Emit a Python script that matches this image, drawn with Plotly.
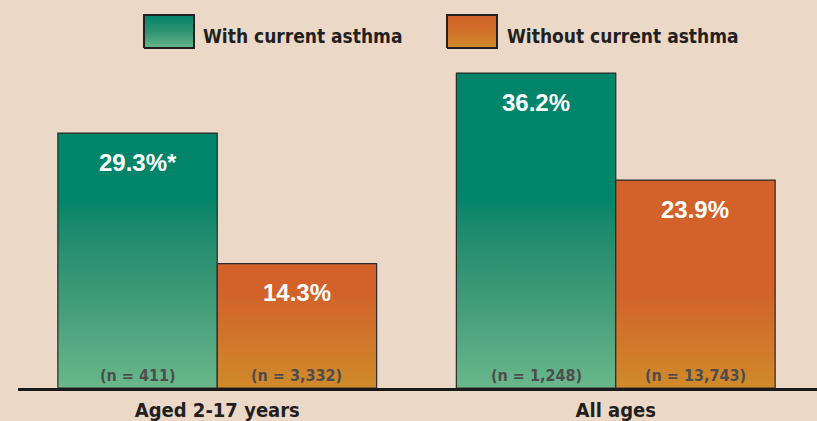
import plotly.graph_objects as go

# ---------------- data ----------------
categories = ["Aged 2-17 years", "All ages"]
series_names = ["With current asthma", "Without current asthma"]
with_asthma = [29.3, 36.2]
without_asthma = [14.3, 23.9]
labels_with = ["29.3%*", "36.2%"]
labels_without = ["14.3%", "23.9%"]
n_with = ["(n = 411)", "(n = 1,248)"]
n_without = ["(n = 3,332)", "(n = 13,743)"]

# ---------------- style ----------------
W, H = 817, 421
BG = "#ECD8C7"
TEXT = "#231F20"
NTEXT = "#4D4D4D"
OUTLINE = "#2A2A2A"
COND = "'DejaVu Sans Condensed', 'DejaVu Sans', sans-serif"
SANS = "'Liberation Sans', Arial, sans-serif"

GREEN_SCALE = [[0, "#6AB78B"], [0.5, "#3D9977"], [0.85, "#1A8A6C"], [1, "#00846A"]]
ORANGE_SCALE = [[0, "#CF8B2A"], [1, "#D2622A"]]
GREEN_GRAD_TOP = 22
ORANGE_GRAD_TOP = 11
SW_GREEN = [[0, "#66B589"], [0.5, "#2F9272"], [1, "#00846A"]]
SW_ORANGE = [[0, "#D08B2A"], [0.5, "#D2702A"], [1, "#D2602A"]]

BAR_W = 0.4
PLOT_BOTTOM_PX = 388
PLOT_TOP_PX = 60
Y_MAX = 37.7

series = [
    (with_asthma, labels_with, n_with, GREEN_SCALE, GREEN_GRAD_TOP),
    (without_asthma, labels_without, n_without, ORANGE_SCALE, ORANGE_GRAD_TOP),
]

fig = go.Figure()
annotations = []

for s, (vals, vlabels, nlabels, scale, gtop) in enumerate(series):
    for i, v in enumerate(vals):
        x0 = i - BAR_W + s * BAR_W
        x1 = x0 + BAR_W
        fig.add_trace(go.Scatter(
            x=[x0, x0, x1, x1, x0], y=[0, v, v, 0, 0],
            mode="lines", fill="toself",
            fillgradient=dict(type="vertical", colorscale=scale, start=0, stop=gtop),
            line=dict(color=OUTLINE, width=1.2),
            showlegend=False, hoverinfo="skip", xaxis="x", yaxis="y",
        ))
        xc = (x0 + x1) / 2
        annotations.append(dict(
            x=xc, y=v, xref="x", yref="y", text=vlabels[i], showarrow=False,
            xanchor="center", yanchor="middle", yshift=-29,
            font=dict(family=SANS, size=24, color="white", weight="bold"),
        ))
        annotations.append(dict(
            x=xc, y=0, xref="x", yref="y", text=nlabels[i], showarrow=False,
            xanchor="center", yanchor="middle", yshift=13,
            font=dict(family=COND, size=16, color=NTEXT, weight="bold"),
        ))

# ---- legend (custom gradient swatches on an overlay pixel axis) ----
legend_items = [
    (series_names[0], SW_GREEN, 144, 194, 201),
    (series_names[1], SW_ORANGE, 447, 497, 505),
]
sw_top, sw_bot = H - 15, H - 48
for name, scale, lx0, lx1, tx in legend_items:
    fig.add_trace(go.Scatter(
        x=[lx0, lx0, lx1, lx1, lx0], y=[sw_bot, sw_top, sw_top, sw_bot, sw_bot],
        mode="lines", fill="toself",
        fillgradient=dict(type="vertical", colorscale=scale, start=sw_bot, stop=sw_top),
        line=dict(color="#231F20", width=2),
        showlegend=False, hoverinfo="skip", xaxis="x2", yaxis="y2",
    ))
    annotations.append(dict(
        x=tx / W, y=(H - 36) / H, xref="paper", yref="paper",
        text=name, showarrow=False, xanchor="left", yanchor="middle",
        font=dict(family=COND, size=19, color=TEXT, weight="bold"),
    ))

fig.update_layout(
    width=W, height=H,
    margin=dict(l=0, r=0, t=0, b=0),
    paper_bgcolor=BG, plot_bgcolor="rgba(0,0,0,0)",
    showlegend=False,
    annotations=annotations,
    xaxis=dict(
        domain=[18 / W, 1], range=[-0.5, 1.505],
        tickmode="array", tickvals=list(range(len(categories))), ticktext=categories,
        tickfont=dict(family=COND, size=20, color=TEXT, weight="bold"),
        ticklabelstandoff=2,
        showline=True, linecolor="#1A1A1A", linewidth=2.5,
        showgrid=False, zeroline=False, ticks="", automargin=False,
        fixedrange=True,
    ),
    yaxis=dict(
        domain=[(H - PLOT_BOTTOM_PX) / H, (H - PLOT_TOP_PX) / H],
        range=[0, Y_MAX], visible=False, automargin=False, fixedrange=True,
    ),
    xaxis2=dict(domain=[0, 1], range=[0, W], visible=False, anchor="y2",
                fixedrange=True),
    yaxis2=dict(domain=[0, 1], range=[0, H], visible=False, anchor="x2",
                fixedrange=True),
)

fig.write_html(
    "out.html",
    config={"displayModeBar": False},
    post_script="document.body.style.margin='0';document.body.style.overflow='hidden';",
)
